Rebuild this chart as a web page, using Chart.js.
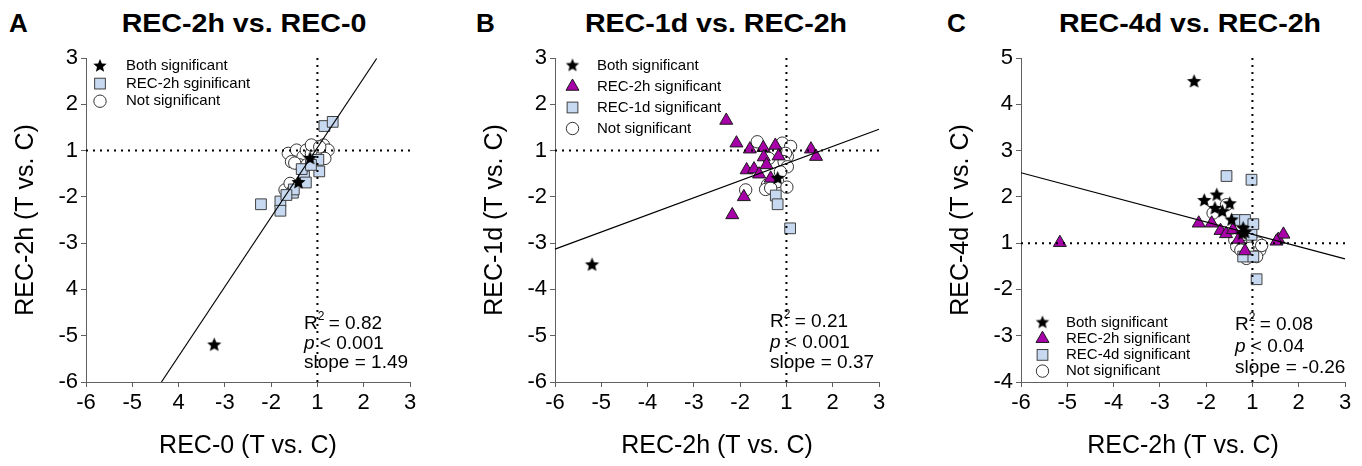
<!DOCTYPE html>
<html>
<head>
<meta charset="utf-8">
<script src="https://cdn.jsdelivr.net/npm/chart.js@4/dist/chart.umd.min.js"></script>
<style>
html,body{margin:0;padding:0;background:#fff;}
#wrap{position:relative;width:1362px;height:466px;overflow:hidden;font-family:"Liberation Sans",Arial,Helvetica,sans-serif;}
canvas{position:absolute;top:0;}
.ttl{position:absolute;top:10px;width:400px;text-align:center;font-weight:bold;font-size:26px;line-height:26px;white-space:nowrap;transform:scaleX(1.1);transform-origin:center;color:#000;}
.ltr{position:absolute;top:10px;font-weight:bold;font-size:26px;line-height:26px;color:#000;}
</style>
</head>
<body>
<div id="wrap">
  <div class="ltr" style="left:9px">A</div>
  <div class="ttl" style="left:44px">REC-2h vs. REC-0</div>
  <div class="ltr" style="left:476px">B</div>
  <div class="ttl" style="left:516px">REC-1d vs. REC-2h</div>
  <div class="ltr" style="left:947px">C</div>
  <div class="ttl" style="left:990px">REC-4d vs. REC-2h</div>
  <canvas id="cA" width="425" height="466" style="left:0px;width:425px;height:466px"></canvas>
  <canvas id="cB" width="425" height="466" style="left:469px;width:425px;height:466px"></canvas>
  <canvas id="cC" width="425" height="466" style="left:935px;width:425px;height:466px"></canvas>
</div>
<script>
// ---------------- DATA (fold change, T vs. C) ----------------
// Tick labels, ordered from the lowest axis position to the highest
const A_xTicks = ['-6','-5','4','-3','-2','1','2','3'];
const A_yTicks = ['-6','-5','4','-3','-2','1','2','3'];
const B_xTicks = ['-6','-5','-4','-3','-2','1','2','3'];
const B_yTicks = ['-6','-5','-4','-3','-2','1','2','3'];
const C_xTicks = ['-6','-5','-4','-3','-2','1','2','3'];
const C_yTicks = ['-4','-3','-2','1','2','3','4','5'];

// Panel A: x = REC-0, y = REC-2h
const A_both  = [[-3.23,-5.20],[-1.41,-1.69],[-1.16,-1.17]];
const A_rec2h = [[1.15,1.53],[1.33,1.62],[-2.22,-2.16],[-1.80,-2.10],[-1.80,-2.30],[-1.53,-1.91],[-1.51,-1.84],[-1.29,-1.56],[-1.25,-1.69],[-1.34,-1.40],[1.02,-1.20],[1.04,-1.45],[-1.14,-1.31],[-1.67,-1.96]];
const A_ns    = [[-1.63,-1.06],[-1.45,1.01],[-1.31,-1.13],[-1.56,-1.24],[-1.24,1.01],[-1.02,1.08],[1.13,1.12],[1.23,1.01],[-1.13,-1.06],[1.09,-1.13],[-1.38,-1.31],[-1.70,-1.85],[-1.59,-1.71],[-1.13,1.12],[1.16,-1.17],[1.05,1.08],[-1.23,-1.31],[-1.49,-1.27]];
const A_fit   = [[-4.37,-6.0],[2.28,2.99]];
const A_stats = ['0.82','< 0.001','1.49'];

// Panel B: x = REC-2h, y = REC-1d
const B_both  = [[-5.20,-3.47],[-1.19,-1.60]];
const B_rec2h = [[-2.30,1.65],[-2.08,1.16],[-1.79,1.03],[-1.50,1.06],[-1.24,1.11],[1.53,1.03],[1.64,-1.13],[-1.17,-1.12],[-1.49,-1.14],[-1.43,-1.31],[-1.86,-1.42],[-1.70,-1.40],[-1.59,-1.51],[-1.34,-1.60],[-1.92,-2.00],[-2.17,-2.39]];
const B_rec1d = [[-1.23,-1.97],[-1.19,-2.16],[1.08,-2.68]];
const B_ns    = [[-1.63,1.19],[-1.09,1.16],[1.09,1.09],[1.02,-1.13],[-1.02,-1.06],[-1.05,-1.24],[1.02,-1.35],[-1.13,-1.46],[-1.19,-1.67],[-1.41,-1.74],[-1.45,-1.84],[-1.34,-1.81],[1.01,-1.79],[-1.88,-1.85],[-1.23,1.00],[-1.38,-1.17]];
const B_fit   = [[-6.0,-3.13],[3.0,1.46]];
const B_stats = ['0.21','< 0.001','0.37'];

// Panel C: x = REC-2h, y = REC-4d
const C_both  = [[-2.26,4.49],[-2.04,1.92],[-1.77,2.04],[-1.81,1.75],[-1.65,1.68],[-1.49,1.85],[-1.45,1.50],[-1.20,1.32],[-1.16,1.23],[-1.22,1.20]];
const C_rec2h = [[-5.16,1.01],[-2.16,1.43],[-1.88,1.43],[-1.69,1.27],[-1.57,1.20],[-1.42,1.29],[-1.30,1.08],[-1.16,-1.17],[1.56,1.08],[1.67,1.19],[1.52,1.04]];
const C_rec4d = [[-1.56,2.45],[-1.02,2.37],[1.09,-1.78],[-1.34,1.50],[-1.16,1.50],[1.02,1.41],[-1.02,1.18],[-1.20,-1.29],[1.02,-1.29]];
const C_ns    = [[-1.85,1.65],[-1.56,1.83],[-1.38,1.07],[-1.34,-1.07],[-1.20,-1.07],[-1.05,-1.11],[1.13,1.00],[1.16,-1.15],[1.09,-1.29],[-1.13,-1.33],[-1.25,-1.15],[1.20,-1.05]];
const C_fit   = [[-6.0,2.52],[3.0,-1.34]];
const C_stats = ['0.08','< 0.04','-0.26'];

// ---------------- helpers ----------------
const FONT = "'Liberation Sans', Arial, Helvetica, sans-serif";
// fold change -> linear axis position (1 and -1 meet at 0)
const toAxis = f => (f > 0 ? f - 1 : f + 1);
const pts = arr => arr.map(p => ({x: toAxis(p[0]), y: toAxis(p[1])}));

function makeStar(R) {
  const s = Math.ceil(R * 2 + 2);
  const c = document.createElement('canvas');
  c.width = s; c.height = s;
  const g = c.getContext('2d');
  g.beginPath();
  for (let i = 0; i < 10; i++) {
    const r = i % 2 ? R * 0.45 : R;
    const a = -Math.PI / 2 + i * Math.PI / 5;
    g.lineTo(s / 2 + r * Math.cos(a), s / 2 + r * Math.sin(a));
  }
  g.closePath();
  g.fillStyle = '#000';
  g.fill();
  return c;
}
const STAR = makeStar(7.5);
const STAR_SMALL = makeStar(7);

const STYLE = {
  star:     {pointStyle: STAR, radius: 7, bg: '#000', border: '#000'},
  triangle: {pointStyle: 'triangle', radius: 7.5, bg: '#a800a8', border: '#1a1a1a'},
  square:   {pointStyle: 'rect', radius: 7.6, bg: '#c6d9f1', border: '#404040'},
  circle:   {pointStyle: 'circle', radius: 6.2, bg: '#ffffff', border: '#333333'}
};

function markerDataset(data, kind) {
  const s = STYLE[kind];
  return {
    data: pts(data), showLine: false,
    pointStyle: s.pointStyle, pointRadius: s.radius, pointHoverRadius: s.radius,
    pointBackgroundColor: s.bg, pointBorderColor: s.border, pointBorderWidth: 1
  };
}
function lineDataset(data, dash, width) {
  return {
    data: pts(data), showLine: true, pointRadius: 0, pointHoverRadius: 0,
    borderColor: '#000', borderWidth: width, borderDash: dash, fill: false, clip: 4
  };
}

function drawMarker(ctx, kind, x, y) {
  const s = STYLE[kind];
  ctx.save();
  ctx.fillStyle = s.bg; ctx.strokeStyle = s.border; ctx.lineWidth = 1;
  if (kind === 'star') {
    ctx.drawImage(STAR_SMALL, x - STAR_SMALL.width / 2, y - STAR_SMALL.height / 2);
  } else if (kind === 'triangle') {
    const r = s.radius;
    ctx.beginPath();
    for (let i = 0; i < 3; i++) {
      const a = -Math.PI / 2 + i * 2 * Math.PI / 3;
      ctx.lineTo(x + r * Math.cos(a), y + r * Math.sin(a));
    }
    ctx.closePath(); ctx.fill(); ctx.stroke();
  } else if (kind === 'square') {
    const h = s.radius * Math.SQRT1_2;
    ctx.fillRect(x - h, y - h, 2 * h, 2 * h);
    ctx.strokeRect(x - h, y - h, 2 * h, 2 * h);
  } else {
    ctx.beginPath(); ctx.arc(x, y, s.radius, 0, Math.PI * 2);
    ctx.fill(); ctx.stroke();
  }
  ctx.restore();
}

function makePanel(id, cfg) {
  const overlay = {
    id: 'overlay',
    afterDatasetsDraw(chart) {
      const ctx = chart.ctx;
      const a = chart.chartArea;
      ctx.save();
      // legend
      ctx.font = '15px ' + FONT;
      ctx.fillStyle = '#000';
      ctx.textBaseline = 'middle';
      ctx.textAlign = 'left';
      cfg.legend.items.forEach((it, i) => {
        const y = a.top + cfg.legend.top + i * cfg.legend.step;
        drawMarker(ctx, it[0], a.left + cfg.legend.mx, y);
        ctx.fillStyle = '#000';
        ctx.fillText(it[1], a.left + cfg.legend.tx, y);
      });
      // statistics
      const sx = a.left + cfg.statsX;
      const rows = cfg.statsY;
      ctx.font = '19px ' + FONT;
      ctx.fillText('R', sx, rows[0]);
      let w = ctx.measureText('R').width;
      ctx.font = '12px ' + FONT;
      ctx.fillText('2', sx + w, rows[0] - 7);
      const w2 = ctx.measureText('2').width;
      ctx.font = '19px ' + FONT;
      ctx.fillText(' = ' + cfg.stats[0], sx + w + w2 - 1, rows[1 - 1]);
      ctx.font = 'italic 19px ' + FONT;
      ctx.fillText('p', sx, rows[1]);
      w = ctx.measureText('p').width;
      ctx.font = '19px ' + FONT;
      ctx.fillText(' ' + cfg.stats[1], sx + w, rows[1]);
      ctx.fillText('slope = ' + cfg.stats[2], sx, rows[2]);
      ctx.restore();
    }
  };
  const axisCommon = (labels, min, title, isX) => ({
    type: 'linear', min: min, max: min + 7,
    ticks: {
      stepSize: 1, autoSkip: false, maxRotation: 0,
      color: '#000', font: {family: FONT, size: 22},
      padding: isX ? 3 : 3,
      callback: v => labels[Math.round(v - min)]
    },
    grid: {drawOnChartArea: false, drawTicks: true, tickLength: 5, color: '#606060', lineWidth: 1},
    border: {display: true, color: '#606060', width: 1},
    title: {display: true, text: title, color: '#000', font: {family: FONT, size: 25}, padding: {top: 4, bottom: 4}},
    afterFit: s => { if (isX) s.height = 83; else s.width = 79; }
  });
  const datasets = [
    lineDataset(cfg.fit, [], 1.2),
    lineDataset([[1, cfg.yRange[0]], [1, cfg.yRange[1]]], [2, 5], 2),
    lineDataset([[-6, 1], [3, 1]], [2, 5], 2)
  ].concat(cfg.series.map(s => markerDataset(s[0], s[1])));

  new Chart(document.getElementById(id), {
    type: 'scatter',
    data: {datasets: datasets},
    options: {
      responsive: false, animation: false,
      layout: {padding: {left: 7, right: 15, top: 58, bottom: 1}},
      plugins: {legend: {display: false}, tooltip: {enabled: false}},
      scales: {
        x: axisCommon(cfg.xTicks, -5, cfg.xTitle, true),
        y: axisCommon(cfg.yTicks, cfg.yMin, cfg.yTitle, false)
      }
    },
    plugins: [overlay]
  });
}

makePanel('cA', {
  xTicks: A_xTicks, yTicks: A_yTicks, yMin: -5, yRange: [-6, 3],
  xTitle: 'REC-0 (T vs. C)', yTitle: 'REC-2h (T vs. C)',
  fit: A_fit, stats: A_stats, statsX: 218, statsY: [324, 343.5, 363],
  series: [[A_both, 'star'], [A_rec2h, 'square'], [A_ns, 'circle']],
  legend: {top: 8, step: 17.6, mx: 14, tx: 40,
    items: [['star', 'Both significant'], ['square', 'REC-2h sginificant'], ['circle', 'Not significant']]}
});
makePanel('cB', {
  xTicks: B_xTicks, yTicks: B_yTicks, yMin: -5, yRange: [-6, 3],
  xTitle: 'REC-2h (T vs. C)', yTitle: 'REC-1d (T vs. C)',
  fit: B_fit, stats: B_stats, statsX: 215, statsY: [322, 342.5, 363],
  series: [[B_both, 'star'], [B_rec2h, 'triangle'], [B_rec1d, 'square'], [B_ns, 'circle']],
  legend: {top: 7.5, step: 21, mx: 17.5, tx: 42,
    items: [['star', 'Both significant'], ['triangle', 'REC-2h significant'], ['square', 'REC-1d significant'], ['circle', 'Not significant']]}
});
makePanel('cC', {
  xTicks: C_xTicks, yTicks: C_yTicks, yMin: -3, yRange: [-4, 5],
  xTitle: 'REC-2h (T vs. C)', yTitle: 'REC-4d (T vs. C)',
  fit: C_fit, stats: C_stats, statsX: 214, statsY: [325, 346.5, 368],
  series: [[C_both, 'star'], [C_rec2h, 'triangle'], [C_rec4d, 'square'], [C_ns, 'circle']],
  legend: {top: 264.5, step: 16.2, mx: 21.5, tx: 45,
    items: [['star', 'Both significant'], ['triangle', 'REC-2h significant'], ['square', 'REC-4d significant'], ['circle', 'Not significant']]}
});
</script>
</body>
</html>
